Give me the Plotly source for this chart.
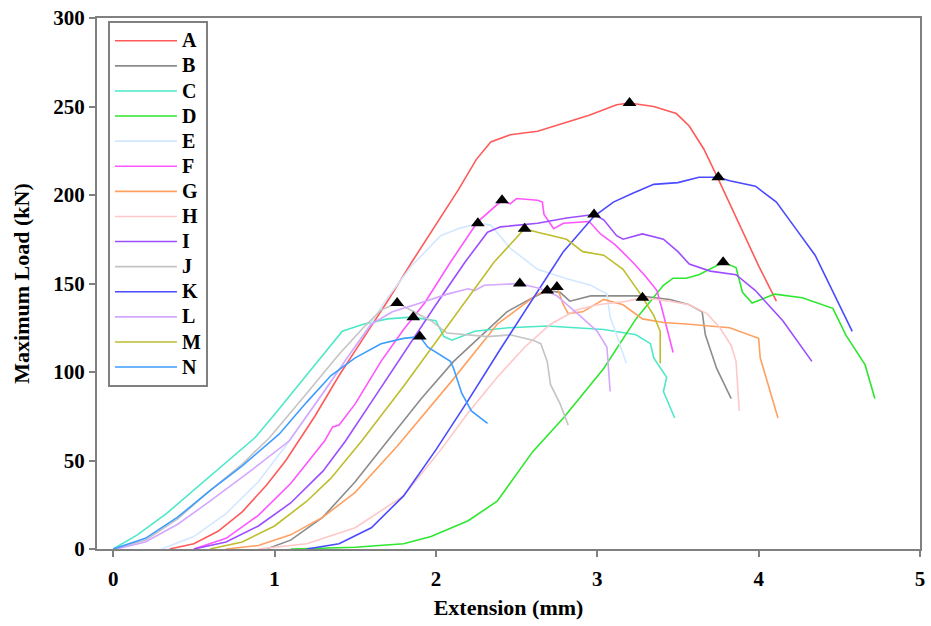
import plotly.graph_objects as go

# ---------------- data ----------------
names = ["A", "B", "C", "D", "E", "F", "G", "H", "I", "J", "K", "L", "M", "N"]
colors = ["#ff5a5a", "#8c8c8c", "#4de8c8", "#2fe62f", "#d2e8ff", "#ff55ff", "#ffa060",
          "#ffc8c8", "#9d4dff", "#c4c4c4", "#4a4aff", "#d4a6ff", "#bdbd2e", "#3d9cff"]

A_x = [0.35, 0.5, 0.65, 0.8, 0.95, 1.07, 1.25, 1.40, 1.55, 1.70, 1.85, 2.00, 2.14, 2.25, 2.34, 2.46,
       2.63, 2.77, 2.95, 3.12, 3.20, 3.35, 3.49, 3.57, 3.66, 3.74, 3.90, 4.00, 4.11]
A_y = [0, 3, 10, 21, 36, 50, 75, 98, 119, 140, 162, 183, 203, 220, 230, 234,
       236, 240, 245, 251, 252, 250, 246, 239, 226, 211, 180, 160, 140]

B_x = [0.95, 1.1, 1.3, 1.5, 1.70, 1.91, 2.11, 2.25, 2.44, 2.60, 2.69, 2.77, 2.83, 2.96, 3.10, 3.26,
       3.45, 3.57, 3.65, 3.67, 3.74, 3.83]
B_y = [0, 5, 18, 38, 61, 85, 106, 118, 134, 142, 146, 145, 140, 143, 143, 143,
       141, 138, 134, 121, 102, 85]

C_x = [0, 0.15, 0.33, 0.55, 0.75, 0.88, 1.0, 1.15, 1.30, 1.42, 1.55, 1.70, 1.85, 2.00, 2.05, 2.10,
       2.24, 2.45, 2.69, 2.90, 3.04, 3.24, 3.33, 3.35, 3.43, 3.41, 3.48]
C_y = [0, 8, 20, 37, 53, 63, 76, 93, 110, 123, 127, 130, 131, 129, 120, 118,
       123, 125, 126, 125, 124, 121, 116, 108, 97, 89, 74]

D_x = [1.1, 1.5, 1.8, 1.97, 2.2, 2.38, 2.6, 2.79, 3.04, 3.24, 3.41, 3.47, 3.55, 3.63, 3.78, 3.86,
       3.90, 3.96, 4.10, 4.27, 4.46, 4.54, 4.66, 4.72]
D_y = [0, 1, 3, 7, 16, 27, 55, 74, 102, 130, 149, 153, 153, 155, 162, 159,
       145, 139, 144, 142, 136, 121, 104, 85]

E_x = [0.3, 0.5, 0.7, 0.9, 1.1, 1.3, 1.45, 1.58, 1.70, 1.85, 2.03, 2.14, 2.26, 2.34, 2.46, 2.63,
       2.80, 2.96, 3.06, 3.08, 3.12, 3.18]
E_y = [0, 7, 20, 38, 62, 88, 108, 125, 142, 160, 177, 181, 184, 183, 170, 158,
       153, 149, 144, 131, 121, 105]

F_x = [0.5, 0.7, 0.9, 1.1, 1.31, 1.36, 1.40, 1.5, 1.66, 1.80, 1.93, 2.09, 2.26, 2.41, 2.46, 2.50,
       2.63, 2.66, 2.67, 2.73, 2.79, 2.95, 3.02, 3.11, 3.22, 3.30, 3.37, 3.40, 3.47]
F_y = [0, 6, 19, 37, 61, 69, 70, 82, 106, 124, 139, 162, 185, 197, 195, 198,
       197, 196, 189, 181, 184, 185, 178, 172, 162, 154, 146, 136, 111]

G_x = [0.7, 0.9, 1.1, 1.3, 1.5, 1.76, 2.09, 2.38, 2.63, 2.75, 2.79, 2.82, 2.91, 3.04, 3.16, 3.28,
       3.41, 3.57, 3.82, 4.00, 4.01, 4.06, 4.12]
G_y = [0, 2, 8, 18, 32, 58, 94, 127, 144, 148, 138, 133, 134, 141, 138, 130,
       128, 127, 125, 119, 108, 93, 74]

H_x = [0.9, 1.2, 1.5, 1.8, 2.03, 2.2, 2.38, 2.55, 2.71, 2.87, 3.0, 3.18, 3.28, 3.45, 3.57, 3.68,
       3.76, 3.83, 3.86, 3.87, 3.88]
H_y = [0, 3, 12, 30, 56, 77, 97, 114, 127, 135, 138, 140, 142, 140, 138, 133,
       125, 115, 106, 90, 78]

I_x = [0.5, 0.7, 0.9, 1.1, 1.3, 1.44, 1.6, 1.81, 2.0, 2.18, 2.32, 2.40, 2.63, 2.81, 2.98, 3.04,
       3.12, 3.16, 3.28, 3.41, 3.50, 3.57, 3.70, 3.86, 3.98, 4.15, 4.33]
I_y = [0, 4, 13, 26, 44, 61, 83, 112, 138, 162, 179, 182, 184, 187, 189, 186,
       177, 175, 178, 175, 168, 161, 157, 155, 146, 129, 106]

J_x = [0, 0.2, 0.4, 0.6, 0.8, 0.97, 1.2, 1.4, 1.55, 1.66, 1.76, 1.87, 1.97, 2.07, 2.32, 2.46,
       2.60, 2.65, 2.69, 2.71, 2.77, 2.82]
J_y = [0, 5, 17, 33, 48, 63, 88, 110, 125, 135, 139, 134, 129, 122, 120, 121,
       118, 116, 106, 93, 82, 70]

K_x = [1.2, 1.4, 1.6, 1.8, 2.0, 2.2, 2.4, 2.59, 2.79, 2.98, 3.10, 3.22, 3.35, 3.50, 3.63, 3.75,
       3.82, 3.98, 4.11, 4.23, 4.35, 4.58]
K_y = [0, 3, 12, 30, 56, 84, 113, 140, 168, 188, 196, 201, 206, 207, 210, 210,
       208, 205, 196, 181, 166, 123]

L_x = [0.02, 0.2, 0.4, 0.6, 0.85, 1.09, 1.3, 1.45, 1.60, 1.73, 1.87, 2.07, 2.20, 2.24, 2.30, 2.52,
       2.65, 2.75, 2.89, 3.00, 3.06, 3.08]
L_y = [0, 4, 14, 27, 44, 61, 88, 108, 127, 134, 138, 144, 147, 146, 149, 150,
       147, 143, 132, 123, 114, 89]

M_x = [0.6, 0.8, 1.0, 1.2, 1.35, 1.54, 1.80, 2.00, 2.18, 2.36, 2.55, 2.63, 2.81, 2.91, 3.04, 3.16,
       3.26, 3.35, 3.39, 3.39]
M_y = [0, 4, 13, 27, 40, 61, 92, 117, 140, 162, 181, 179, 175, 168, 166, 158,
       145, 132, 123, 105]

N_x = [0, 0.2, 0.4, 0.6, 0.8, 1.03, 1.2, 1.35, 1.50, 1.66, 1.80, 1.90, 1.95, 2.09, 2.11, 2.16,
       2.22, 2.32]
N_y = [0, 6, 18, 33, 47, 65, 83, 98, 108, 116, 119, 120, 114, 106, 102, 88, 78, 71]

# maximum-load markers (black triangles)
peak_x = [3.20, 3.75, 2.41, 2.98, 2.26, 2.55, 3.78, 2.52, 2.69, 2.75, 3.28, 1.76, 1.86, 1.90]
peak_y = [252, 210, 197, 189, 184, 181, 162, 150, 146, 148, 142, 139, 131, 120]

x_ticks = [0, 1, 2, 3, 4, 5]
y_ticks = [0, 50, 100, 150, 200, 250, 300]

series_x = [A_x, B_x, C_x, D_x, E_x, F_x, G_x, H_x, I_x, J_x, K_x, L_x, M_x, N_x]
series_y = [A_y, B_y, C_y, D_y, E_y, F_y, G_y, H_y, I_y, J_y, K_y, L_y, M_y, N_y]

# ---------------- figure ----------------
FONT = "Liberation Serif, Times New Roman, serif"
fig = go.Figure()
for nm, col, xs, ys in zip(names, colors, series_x, series_y):
    fig.add_trace(go.Scatter(x=xs, y=ys, mode="lines",
                             name="<span style='font-size:20px'>%s</span>" % nm,
                             line=dict(color=col, width=1.6)))

fig.add_trace(go.Scatter(x=peak_x, y=peak_y, mode="markers", showlegend=False,
                         marker=dict(symbol="triangle-up", size=12, color="black"),
                         cliponaxis=False))

axis_common = dict(showline=True, linecolor="#808080", linewidth=2, mirror=True,
                   showgrid=False, zeroline=False, ticks="outside", ticklen=6,
                   tickwidth=2, tickcolor="#808080",
                   tickfont=dict(family=FONT, size=21, color="black", weight="bold"))

fig.update_layout(
    width=931, height=626,
    margin=dict(l=97, r=6, t=15, b=77),
    paper_bgcolor="white", plot_bgcolor="white",
    xaxis=dict(range=[-0.1, 5.0], tickvals=x_ticks,
               title=dict(text="Extension (mm)", standoff=9,
                          font=dict(family=FONT, size=22, color="black", weight="bold")),
               ticklabelstandoff=4, **axis_common),
    yaxis=dict(range=[0, 300], tickvals=y_ticks,
               title=dict(text="Maximum Load (kN)", standoff=18,
                          font=dict(family=FONT, size=22, color="black", weight="bold")),
               **axis_common),
    legend=dict(x=0.0133, y=0.994, xanchor="left", yanchor="top",
                bordercolor="#808080", borderwidth=2, bgcolor="white",
                itemwidth=62, tracegroupgap=0,
                font=dict(family=FONT, size=17, color="black", weight="bold")),
    showlegend=True,
)

# place the figure at the page origin (remove the default body margin)
fig.write_html("out.html",
               config={"displayModeBar": False},
               post_script="document.body.style.margin='0px';document.body.style.overflow='hidden';")
